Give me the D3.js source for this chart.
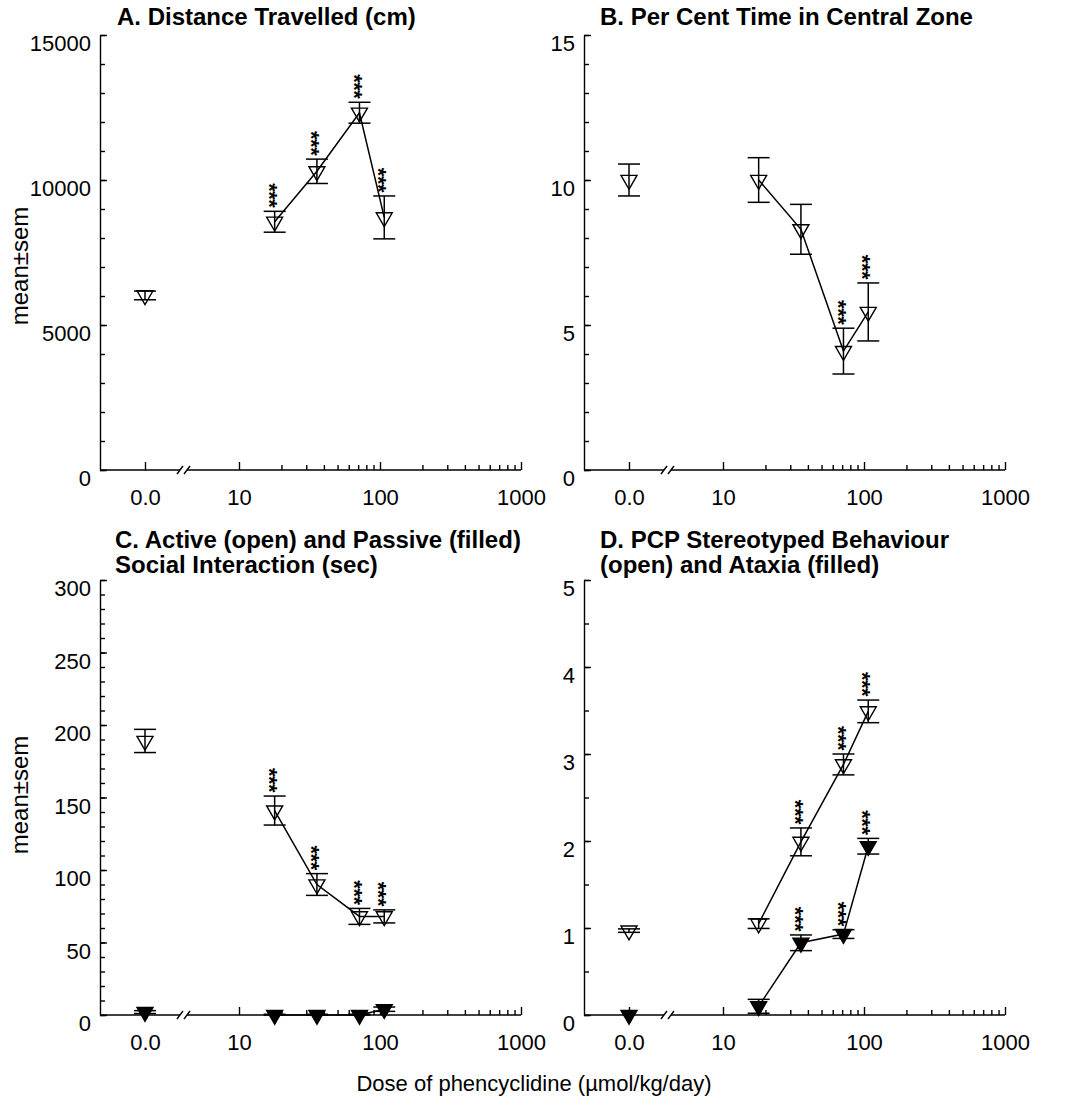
<!DOCTYPE html>
<html><head><meta charset="utf-8">
<script src="https://cdn.jsdelivr.net/npm/d3@7"></script>
<style>
body{margin:0;background:#fff}
svg{display:block}
</style>
</head><body>
<script>
// ---------- data ----------
const controlLabel = "0.0";
const doses = [17.9, 35.7, 71.5, 107.2];           // µmol/kg/day
const xMajorTicks = [10, 100, 1000];
const xMajorLabels = ["10", "100", "1000"];
const xMinorTicks = [20,30,40,50,60,70,80,90,200,300,400,500,600,700,800,900];

// A. Distance travelled (control, then doses)
const distMean = [6020, 8560, 10300, 12320, 8710];
const distSem  = [150, 360, 420, 360, 740];
const distSig  = [0, 1, 1, 1, 1];
const yTicksA  = [0, 5000, 10000, 15000];
const yLabelsA = ["0", "5000", "10000", "15000"];

// B. Per cent time in central zone
const zoneMean = [10.0, 10.0, 8.3, 4.1, 5.45];
const zoneSem  = [0.55, 0.77, 0.86, 0.79, 1.0];
const zoneSig  = [0, 0, 0, 1, 1];
const yTicksB  = [0, 5, 10, 15];
const yLabelsB = ["0", "5", "10", "15"];

// C. Active (open) and passive (filled) social interaction
const activeMean  = [189, 141, 90, 68, 68];
const activeSem   = [8, 10, 7.5, 5.5, 4.5];
const activeSig   = [0, 1, 1, 1, 1];
const passiveMean = [2, 0, 0, 0, 4];
const passiveSem  = [1, 0.5, 0.5, 0.5, 1.5];
const passiveSig  = [0, 0, 0, 0, 0];
const yTicksC  = [0, 50, 100, 150, 200, 250, 300];
const yLabelsC = ["0", "50", "100", "150", "200", "250", "300"];

// D. Stereotyped behaviour (open) and ataxia (filled)
const stereoMean = [0.97, 1.05, 1.99, 2.88, 3.49];
const stereoSem  = [0.02, 0.055, 0.16, 0.12, 0.13];
const stereoSig  = [0, 0, 1, 1, 1];
const ataxiaMean = [0, 0.1, 0.83, 0.93, 1.94];
const ataxiaSem  = [0, 0.08, 0.09, 0.05, 0.09];
const ataxiaSig  = [0, 0, 1, 1, 1];
const yTicksD  = [0, 1, 2, 3, 4, 5];
const yLabelsD = ["0", "1", "2", "3", "4", "5"];

const titleA = ["A. Distance Travelled (cm)"];
const titleB = ["B. Per Cent Time in Central Zone"];
const titleC = ["C. Active (open) and Passive (filled)", "Social Interaction (sec)"];
const titleD = ["D. PCP Stereotyped Behaviour", "(open) and Ataxia (filled)"];
const yAxisTitle = "mean±sem";
const xAxisTitle = "Dose of phencyclidine (µmol/kg/day)";
const sigMark = "***";

// ---------- drawing ----------
const FONT = '"Liberation Sans", Arial, Helvetica, sans-serif';
const svg = d3.select("body").append("svg").attr("width", 1068).attr("height", 1103)
  .style("font-family", FONT);

function drawPanel(p) {
  const g = svg.append("g");
  const y = d3.scaleLinear().domain([0, p.yMax]).range([p.y0, p.y1]);
  const xLog = d3.scaleLog().domain([10, 1000]).range([p.x0 + 139, p.x0 + 421]);
  const xCtrl = d3.scalePoint().domain([controlLabel]).range([p.x0 + 44, p.x0 + 46]);
  const xAt = i => i === 0 ? xCtrl(controlLabel) : xLog(doses[i - 1]);

  // y axis: minor ticks
  g.append("g").attr("transform", `translate(${p.x0},0)`)
    .call(d3.axisLeft(y).tickValues(d3.range(0, p.yMax + p.yStep / 2, p.yStep))
      .tickSize(-5).tickSizeOuter(0).tickFormat(""))
    .call(a => a.select(".domain").remove());
  // y axis: major ticks, labels, axis line
  g.append("g").attr("transform", `translate(${p.x0},0)`)
    .call(d3.axisLeft(y).tickValues(p.yTicks).tickSize(-7).tickSizeOuter(0)
      .tickFormat((d, i) => p.yLabels[i]))
    .call(a => a.selectAll("text").attr("x", -9).attr("dy", "0.72em")
      .attr("font-size", 22).attr("font-family", FONT).attr("fill", "#000"));

  // x axis: major log ticks with labels
  g.append("g").attr("transform", `translate(0,${p.y0})`)
    .call(d3.axisBottom(xLog).tickValues(xMajorTicks).tickSize(-8).tickSizeOuter(0)
      .tickFormat((d, i) => xMajorLabels[i]))
    .call(a => a.select(".domain").remove())
    .call(a => a.selectAll("text").attr("y", 19).attr("dy", "0.71em")
      .attr("font-size", 22).attr("font-family", FONT).attr("fill", "#000"));
  // x axis: minor log ticks
  g.append("g").attr("transform", `translate(0,${p.y0})`)
    .call(d3.axisBottom(xLog).tickValues(xMinorTicks).tickSize(-5).tickSizeOuter(0).tickFormat(""))
    .call(a => a.select(".domain").remove());
  // x axis: control tick
  g.append("g").attr("transform", `translate(0,${p.y0})`)
    .call(d3.axisBottom(xCtrl).tickSize(-8).tickSizeOuter(0))
    .call(a => a.select(".domain").remove())
    .call(a => a.selectAll("text").attr("y", 19).attr("dy", "0.71em")
      .attr("font-size", 22).attr("font-family", FONT).attr("fill", "#000"));

  // x axis line with break
  const brk = p.x0 + 84;
  g.append("line").attr("x1", p.x0).attr("x2", brk - 4).attr("y1", p.y0).attr("y2", p.y0);
  g.append("line").attr("x1", brk + 3).attr("x2", xLog(1000)).attr("y1", p.y0).attr("y2", p.y0);
  [-4, 3].forEach(o => g.append("line")
    .attr("x1", brk + o - 3).attr("y1", p.y0 + 4).attr("x2", brk + o + 3).attr("y2", p.y0 - 4));

  g.selectAll("line, path").attr("stroke", "#000").attr("stroke-width", 1.4);

  // series
  const FS = 22;
  p.series.forEach(s => {
    const pts = s.mean.map((m, i) => ({
      x: xAt(i), y: y(m), hi: y(m + s.sem[i]), lo: y(Math.max(0, m - s.sem[i])),
      sem: s.sem[i], sig: s.sig[i]
    }));
    g.append("path")
      .attr("d", d3.line().x(d => d.x).y(d => d.y)(pts.slice(1)))
      .attr("fill", "none").attr("stroke", "#000").attr("stroke-width", 1.5);
    const eb = g.append("g").attr("stroke", "#000").attr("stroke-width", 1.5);
    pts.filter(d => d.sem > 0).forEach(d => {
      eb.append("line").attr("x1", d.x).attr("x2", d.x).attr("y1", d.lo).attr("y2", d.hi);
      eb.append("line").attr("x1", d.x - 11).attr("x2", d.x + 11).attr("y1", d.hi).attr("y2", d.hi);
      eb.append("line").attr("x1", d.x - 11).attr("x2", d.x + 11).attr("y1", d.lo).attr("y2", d.lo);
    });
    g.append("g").selectAll("path").data(pts).join("path")
      .attr("d", d3.symbol(d3.symbolTriangle, 111))
      .attr("transform", d => `translate(${d.x},${d.y}) rotate(180)`)
      .attr("fill", s.filled ? "#000" : "none")
      .attr("stroke", "#000").attr("stroke-width", 1.4);
    // significance: three asterisks stacked vertically (one rotated text)
    g.append("g").selectAll("text").data(pts.filter(d => d.sig)).join("text")
      .attr("transform", d => `translate(${d.x - 0.58 * FS},${d.hi - 16}) rotate(90)`)
      .attr("text-anchor", "middle").attr("font-size", FS).attr("font-weight", "bold")
      .attr("letter-spacing", -0.5)
      .attr("fill", "#000").text(sigMark);
  });

  // title
  const t = g.append("text").attr("font-size", 24).attr("font-weight", "bold").attr("fill", "#000");
  p.title.forEach((line, i) => t.append("tspan").attr("x", p.tx).attr("y", p.ty + 25 * i).text(line));

  if (p.yTitleY) {
    g.append("text").attr("transform", `translate(28,${p.yTitleY}) rotate(-90)`)
      .attr("text-anchor", "middle").attr("font-size", 24).attr("fill", "#000").text(yAxisTitle);
  }
}

drawPanel({x0: 100, y0: 470, y1: 35, yMax: 15000, yStep: 1000, yTicks: yTicksA, yLabels: yLabelsA,
  title: titleA, tx: 117, ty: 25, yTitleY: 266,
  series: [{mean: distMean, sem: distSem, sig: distSig, filled: false}]});
drawPanel({x0: 584, y0: 470, y1: 35, yMax: 15, yStep: 1, yTicks: yTicksB, yLabels: yLabelsB,
  title: titleB, tx: 600, ty: 25, yTitleY: 0,
  series: [{mean: zoneMean, sem: zoneSem, sig: zoneSig, filled: false}]});
drawPanel({x0: 100, y0: 1015, y1: 580, yMax: 300, yStep: 10, yTicks: yTicksC, yLabels: yLabelsC,
  title: titleC, tx: 115, ty: 548, yTitleY: 795,
  series: [{mean: passiveMean, sem: passiveSem, sig: passiveSig, filled: true},
           {mean: activeMean, sem: activeSem, sig: activeSig, filled: false}]});
drawPanel({x0: 584, y0: 1015, y1: 580, yMax: 5, yStep: 0.5, yTicks: yTicksD, yLabels: yLabelsD,
  title: titleD, tx: 600, ty: 548, yTitleY: 0,
  series: [{mean: stereoMean, sem: stereoSem, sig: stereoSig, filled: false},
           {mean: ataxiaMean, sem: ataxiaSem, sig: ataxiaSig, filled: true}]});

svg.append("text").attr("x", 534).attr("y", 1091).attr("text-anchor", "middle")
  .attr("font-size", 22).attr("fill", "#000").text(xAxisTitle);
</script>
</body></html>
